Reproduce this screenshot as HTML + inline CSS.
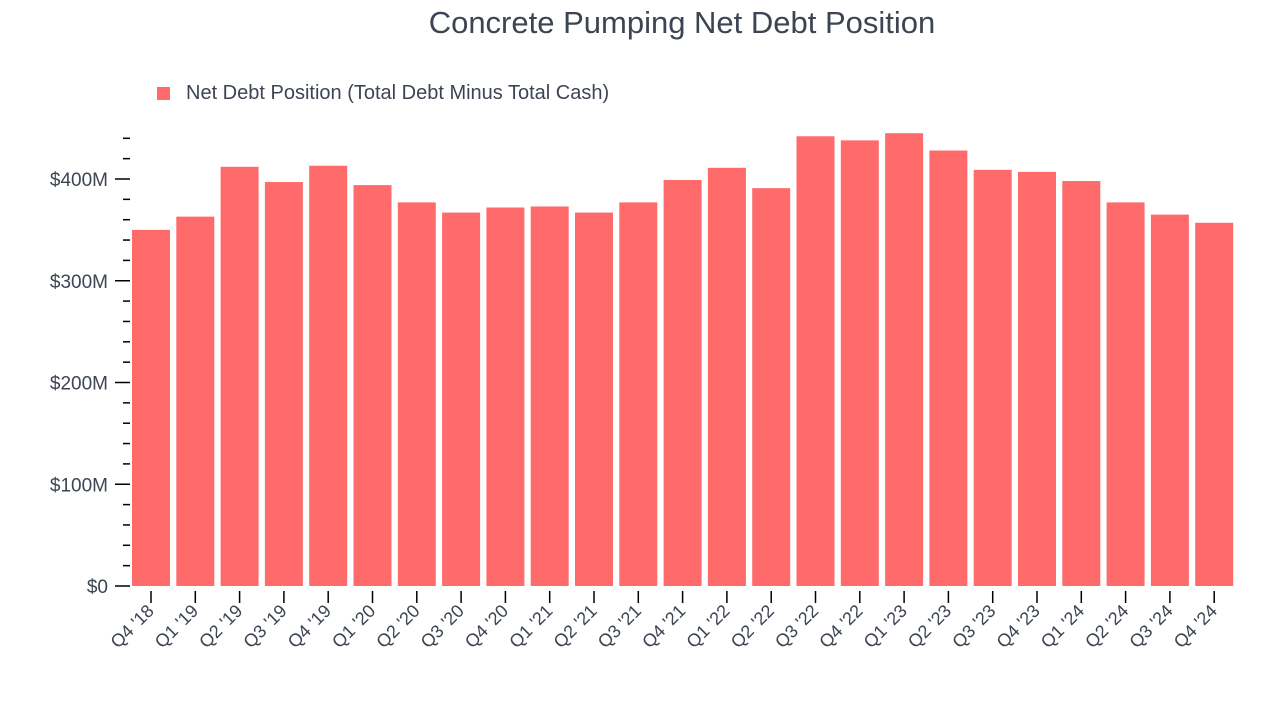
<!DOCTYPE html>
<html><head><meta charset="utf-8"><style>
body{margin:0;background:#fff;font-family:"Liberation Sans",sans-serif;}
svg text{font-family:"Liberation Sans",sans-serif;}
</style></head><body>
<svg id="chart" width="1280" height="720" xmlns="http://www.w3.org/2000/svg">
<text x="682" y="33" text-anchor="middle" font-size="31" fill="#3d4453">Concrete Pumping Net Debt Position</text>
<rect x="157" y="87" width="13" height="13" fill="#ff6b6b"/>
<text x="186" y="99" font-size="20" fill="#3d4453">Net Debt Position (Total Debt Minus Total Cash)</text>
<g id="yaxis"></g>
<g id="bars"></g>
<g id="xaxis"></g>
</svg>
<script>
const categories=["Q4 '18","Q1 '19","Q2 '19","Q3 '19","Q4 '19","Q1 '20","Q2 '20","Q3 '20","Q4 '20","Q1 '21","Q2 '21","Q3 '21","Q4 '21","Q1 '22","Q2 '22","Q3 '22","Q4 '22","Q1 '23","Q2 '23","Q3 '23","Q4 '23","Q1 '24","Q2 '24","Q3 '24","Q4 '24"];
const values=[350,363,412,397,413,394,377,367,372,373,367,377,399,411,391,442,438,445,428,409,407,398,377,365,357];
const yTicks=[0,100,200,300,400];
const yTickLabels=["$0","$100M","$200M","$300M","$400M"];
const NS="http://www.w3.org/2000/svg";
const y0=586, pxPer=1.0175;
function y(v){return y0-v*pxPer;}
const left=132, pitch=44.3, bw=38;
function x(i){return left+i*pitch;}
function mk(tag,attrs,parent){const e=document.createElementNS(NS,tag);for(const k in attrs)e.setAttribute(k,attrs[k]);parent.appendChild(e);return e;}
const ya=document.getElementById('yaxis'), ba=document.getElementById('bars'), xa=document.getElementById('xaxis');
for(let v=0;v<=440;v+=20){
  const major=v%100===0;
  const t=mk('line',{x1:major?115:123,x2:130,y1:y(v),y2:y(v),stroke:'#000','stroke-width':1.5},ya);
  
  
}
yTicks.forEach((v,i)=>{
  const t=mk('text',{x:108,y:y(v)+7,'text-anchor':'end','font-size':19,fill:'#3d4453'},ya);
  t.textContent=yTickLabels[i];
  
  
});
values.forEach((v,i)=>{
  const r=mk('rect',{x:x(i),y:y(v),width:bw,height:y0-y(v),fill:'#ff6b6b'},ba);
  
  
  const cx=x(i)+bw/2;
  const tk=mk('line',{x1:cx,x2:cx,y1:591,y2:603,stroke:'#000','stroke-width':1.5},xa);
  
  
  const lb=mk('text',{x:cx+4,y:612,'text-anchor':'end','font-size':18,fill:'#3d4453',transform:`rotate(-45 ${cx+4} 612)`},xa);
  lb.textContent=categories[i];
  
  
});
</script>
</body></html>
